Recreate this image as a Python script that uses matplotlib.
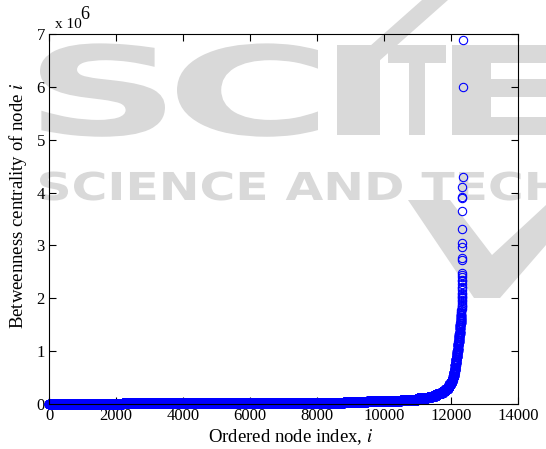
import numpy as np
import matplotlib
matplotlib.use("Agg")
import matplotlib.pyplot as plt
from matplotlib.textpath import TextPath
from matplotlib.patches import PathPatch, Polygon
from matplotlib.font_manager import FontProperties
from matplotlib.transforms import Affine2D

plt.rcParams['font.family'] = ['Liberation Serif', 'DejaVu Serif']
plt.rcParams['mathtext.fontset'] = 'stix'

# Sorted betweenness centrality (units of 1e6), run-length encoded: level value and node count
level_values = [0.003, 0.018, 0.022, 0.04, 0.05, 0.065, 0.085, 0.11, 0.13, 0.15,
                0.18, 0.21, 0.25, 0.29, 0.33, 0.37, 0.41, 0.45, 0.49,
                0.53, 0.57, 0.61, 0.65, 0.69, 0.73, 0.77, 0.81, 0.85, 0.89,
                0.93, 0.97, 1.01, 1.05, 1.09, 1.13, 1.17, 1.21, 1.25, 1.29,
                1.33, 1.37, 1.41, 1.45, 1.49, 1.53, 1.57, 1.61, 1.65, 1.69]
level_counts = [2200, 2800, 3800, 700, 500, 500, 500, 300, 130, 120,
                100, 100, 80, 70, 50, 40, 30, 25, 25,
                12, 12, 11, 11, 10, 10, 10, 9, 9, 9,
                9, 8, 8, 8, 8, 8, 7, 7, 7, 7,
                7, 7, 6, 6, 6, 6, 6, 6, 5, 5]
# Highest-ranked individual nodes (units of 1e6)
tail_values = [1.72, 1.75, 1.78, 1.80, 1.83, 1.86, 1.88, 1.91, 1.94, 1.97, 2.00,
               2.03, 2.05, 2.08, 2.10, 2.15, 2.20, 2.22, 2.27, 2.32, 2.35, 2.40,
               2.45, 2.48, 2.72, 2.76, 2.97, 3.05, 3.31, 3.65, 3.90, 3.92, 4.11,
               4.30, 6.00, 6.89]

x_ticks = [0, 2000, 4000, 6000, 8000, 10000, 12000, 14000]
y_ticks = [0, 1, 2, 3, 4, 5, 6, 7]

values = np.concatenate([np.repeat(level_values, level_counts), tail_values])
index = np.arange(1, len(values) + 1)

W, H = 546, 449
fig = plt.figure(figsize=(W / 100, H / 100), dpi=100)

# ---- faint publisher watermark behind the chart (pixel coords from top-left) ----
wm_color = '#d9d9d9'
bold = FontProperties(family='DejaVu Sans', weight='bold')


def wm_text(text, ink_left, ink_right, baseline, cap):
    tp = TextPath((0, 0), text, size=1, prop=bold)
    ext = tp.get_extents()
    sx = (ink_right - ink_left) / ext.width
    sy = cap / 0.729
    tr = Affine2D().translate(-ext.x0, 0).scale(sx, sy).translate(ink_left, H - baseline)
    fig.patches.append(PathPatch(tr.transform_path(tp), facecolor=wm_color,
                                 edgecolor='none', transform=None, zorder=-5))


for ch, l, r in [('S', 40, 165), ('C', 177, 318), ('I', 337, 380),
                 ('T', 388, 446), ('E', 452, 560)]:
    wm_text(ch, l, r, 135, 90)

wm_text('SCIENCE AND TECH', 40, 560, 200, 28)

for pts in ([(408, 200), (450, 200), (492, 255), (546, 205), (546, 245), (500, 298), (474, 298)],
            [(352, 62), (378, 62), (448, 0), (422, 0)]):
    fig.patches.append(Polygon([(x, H - y) for x, y in pts], closed=True,
                               facecolor=wm_color, edgecolor='none',
                               transform=None, zorder=-5))

# ---- chart ----
ax = fig.add_axes([49 / W, 1 - 404 / H, (518 - 49) / W, (404 - 34) / H])
ax.patch.set_alpha(0)

ax.plot(index, values, linestyle='none', marker='o', markersize=6,
        markerfacecolor='none', markeredgecolor='#0000ff', markeredgewidth=0.8,
        clip_on=False)

ax.set_xlim(0, 14000)
ax.set_ylim(0, 7)
ax.set_xticks(x_ticks)
ax.set_xticklabels([str(t) for t in x_ticks])
ax.set_yticks(y_ticks)
ax.set_yticklabels([str(t) for t in y_ticks])
ax.tick_params(direction='in', top=True, right=True, length=5, width=0.8,
               labelsize=12, pad=3)
for s in ax.spines.values():
    s.set_linewidth(0.8)

ax.set_xlabel('Ordered node index, $i$', fontsize=13.5)
ax.set_ylabel('Betweenness centrality of node $i$', fontsize=13.5)
ax.xaxis.set_label_coords(0.516, -0.063)
ax.yaxis.set_label_coords(-0.042, 0.535)

fig.text(55 / W, 1 - 28 / H, 'x 10', fontsize=11, ha='left', va='baseline')
fig.text(80 / W, 1 - 19 / H, '6', fontsize=13, ha='left', va='baseline')

fig.savefig('out.png', dpi=100)
